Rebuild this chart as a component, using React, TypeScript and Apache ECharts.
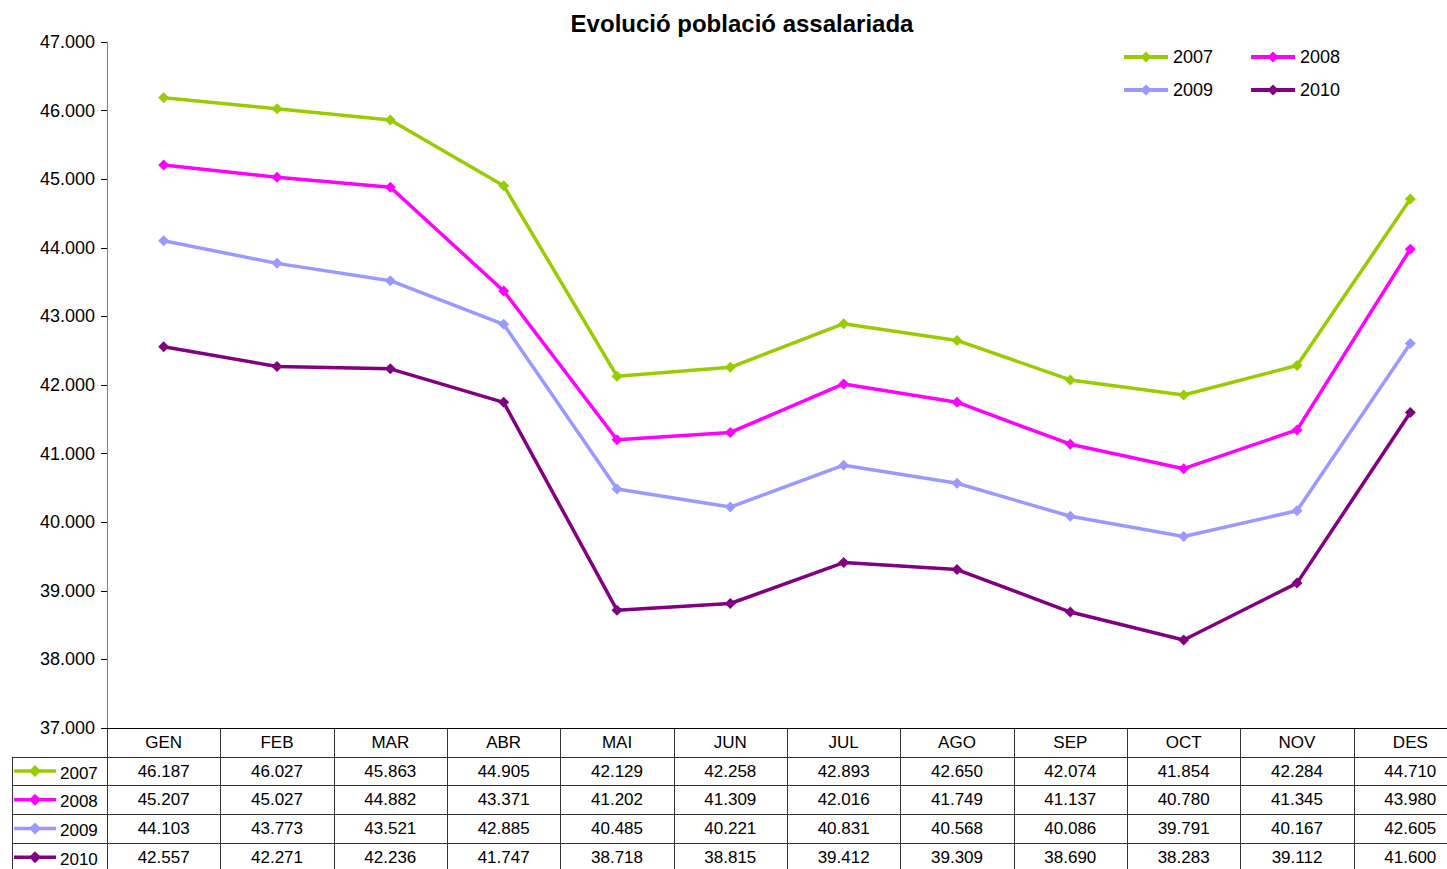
import React, { useEffect, useRef } from "react";
import * as echarts from "echarts";

const months = ["GEN", "FEB", "MAR", "ABR", "MAI", "JUN", "JUL", "AGO", "SEP", "OCT", "NOV", "DES"];
const years = ["2007", "2008", "2009", "2010"];
const s2007 = [46.187, 46.027, 45.863, 44.905, 42.129, 42.258, 42.893, 42.65, 42.074, 41.854, 42.284, 44.71];
const s2008 = [45.207, 45.027, 44.882, 43.371, 41.202, 41.309, 42.016, 41.749, 41.137, 40.78, 41.345, 43.98];
const s2009 = [44.103, 43.773, 43.521, 42.885, 40.485, 40.221, 40.831, 40.568, 40.086, 39.791, 40.167, 42.605];
const s2010 = [42.557, 42.271, 42.236, 41.747, 38.718, 38.815, 39.412, 39.309, 38.69, 38.283, 39.112, 41.6];
const colors = ["#99CC00", "#FF00FF", "#9999FF", "#800080"];
const seriesData = [s2007, s2008, s2009, s2010];
const yMin = 37;
const yMax = 47;
const yInterval = 1;

const FONT = "'Liberation Sans', Arial, sans-serif";
const VIEW_W = 1447;
const W = 1467; // chart canvas extends past the viewport, as in the reference
const H = 869;
const GRID_LEFT = 107;
const GRID_TOP = 42;
const GRID_BOTTOM = 141;
const TABLE_LEFT = 12;
const ROW_H = 28.7;

export default function App() {
  const ref = useRef<HTMLDivElement>(null);
  useEffect(() => {
    document.body.style.margin = "0";
    document.body.style.overflow = "hidden";
    if (!ref.current) return;
    const chart = echarts.init(ref.current, null, { renderer: "svg" });
    const legendCommon = {
      left: 1122,
      padding: 0,
      itemWidth: 44,
      itemHeight: 14,
      itemGap: 36,
      lineStyle: { width: 4 },
      textStyle: { fontFamily: FONT, fontSize: 18, color: "#000", padding: [2, 0, 0, 0] },
    };
    const option: any = {
      animation: false,
      backgroundColor: "#ffffff",
      textStyle: { fontFamily: FONT },
      title: {
        text: "Evolució població assalariada",
        left: 742,
        textAlign: "center",
        top: 11,
        padding: 0,
        textStyle: { fontFamily: FONT, fontSize: 24, fontWeight: "bold", color: "#000" },
      },
      legend: [
        { ...legendCommon, data: ["2007", "2008"], top: 48 },
        { ...legendCommon, data: ["2009", "2010"], top: 81 },
      ],
      grid: { left: GRID_LEFT, right: 0, top: GRID_TOP, bottom: GRID_BOTTOM, containLabel: false },
      xAxis: {
        type: "category",
        data: months,
        boundaryGap: true,
        axisLine: { lineStyle: { color: "#000", width: 1 } },
        axisTick: { show: false },
        axisLabel: { interval: 0, margin: 6, fontFamily: FONT, fontSize: 17, color: "#000" },
      },
      yAxis: {
        type: "value",
        min: yMin,
        max: yMax,
        interval: yInterval,
        axisLine: { show: true, lineStyle: { color: "#808080", width: 1 } },
        axisTick: { show: true, length: 6, lineStyle: { color: "#000" } },
        splitLine: { show: false },
        axisLabel: {
          margin: 12,
          fontFamily: FONT,
          fontSize: 18,
          color: "#000",
          formatter: (v: number) => v.toFixed(3),
        },
      },
      series: years.map((y, i) => ({
        name: y,
        type: "line",
        data: seriesData[i],
        symbol: "diamond",
        symbolSize: 11,
        lineStyle: { width: 3.5, color: colors[i] },
        itemStyle: { color: colors[i] },
      })),
    };
    chart.setOption(option);

    const axisY = H - GRID_BOTTOM;
    const step = (W - GRID_LEFT) / months.length;
    const graphics: any[] = [];
    const lineColor = "#333333";
    for (let k = 0; k <= months.length; k++) {
      const x = Math.round(GRID_LEFT + k * step) + 0.5;
      graphics.push({
        type: "line",
        shape: { x1: x, y1: axisY, x2: x, y2: H },
        style: { stroke: lineColor, lineWidth: 1 },
        silent: true,
      });
    }
    graphics.push({
      type: "line",
      shape: { x1: TABLE_LEFT + 0.5, y1: axisY + ROW_H, x2: TABLE_LEFT + 0.5, y2: H },
      style: { stroke: lineColor, lineWidth: 1 },
      silent: true,
    });
    for (let r = 1; r <= years.length; r++) {
      const y = Math.round(axisY + r * ROW_H) + 0.5;
      graphics.push({
        type: "line",
        shape: { x1: TABLE_LEFT, y1: y, x2: W, y2: y },
        style: { stroke: lineColor, lineWidth: 1 },
        silent: true,
      });
    }
    years.forEach((yr, r) => {
      const cy = axisY + (r + 1.5) * ROW_H;
      graphics.push({
        type: "line",
        shape: { x1: 14, y1: cy, x2: 56, y2: cy },
        style: { stroke: colors[r], lineWidth: 3.5 },
        silent: true,
      });
      graphics.push({
        type: "polygon",
        shape: { points: [[35, cy - 6], [41, cy], [35, cy + 6], [29, cy]] },
        style: { fill: colors[r] },
        silent: true,
      });
      graphics.push({
        type: "text",
        x: 60,
        y: cy + 2,
        style: {
          text: yr,
          fill: "#000",
          font: `17px ${FONT}`,
          align: "left",
          verticalAlign: "middle",
          textAlign: "left",
          textVerticalAlign: "middle",
        },
        silent: true,
      });
      seriesData[r].forEach((v, c) => {
        const px = chart.convertToPixel({ xAxisIndex: 0 }, c) as number;
        graphics.push({
          type: "text",
          x: px,
          y: cy,
          style: {
            text: v.toFixed(3),
            fill: "#000",
            font: `17px ${FONT}`,
            align: "center",
            verticalAlign: "middle",
            textAlign: "center",
            textVerticalAlign: "middle",
          },
          silent: true,
        });
      });
    });
    chart.setOption({ graphic: graphics });

    return () => chart.dispose();
  }, []);
  return (
    <div style={{ width: VIEW_W, height: H, overflow: "hidden" }}>
      <div ref={ref} style={{ width: W, height: H }} />
    </div>
  );
}
